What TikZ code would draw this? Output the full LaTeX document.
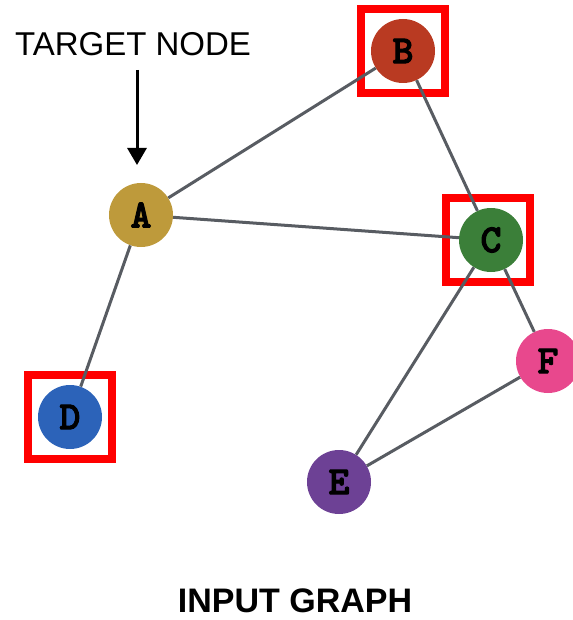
\documentclass[tikz,border=0pt]{standalone}
\usepackage{fontspec}
\setmainfont{Liberation Sans}
\newfontfamily\letterfont{lmmonolt10-bold}[Extension=.otf, FakeBold=2.5]
\usetikzlibrary{arrows.meta}
\definecolor{nodeA}{HTML}{BE9A3B}
\definecolor{nodeB}{HTML}{B93A22}
\definecolor{nodeC}{HTML}{3B7F39}
\definecolor{nodeD}{HTML}{2C63B9}
\definecolor{nodeE}{HTML}{6D4195}
\definecolor{nodeF}{HTML}{E8488D}
\definecolor{edgegray}{HTML}{585C62}
\tikzset{
  graphnode/.style={circle, minimum size=64pt, inner sep=0pt, font=\letterfont\fontsize{40}{40}\selectfont},
  graphedge/.style={draw=edgegray, line width=3pt},
  selbox/.style={draw=red, line width=8pt, minimum size=84pt, inner sep=0pt},
  pointer/.style={-{Triangle[length=17pt, width=19pt]}, line width=3pt}
}

\begin{document}
\begin{tikzpicture}[x=1pt, y=-1pt]
  \useasboundingbox (0,0) rectangle (572,620);
  % red selection boxes
  \node[selbox] (bsel) at (403,51) {};
  \node[selbox] (csel) at (488,240) {};
  \node[selbox] (dsel) at (70,417) {};
  % graph nodes
  \node[graphnode, fill=nodeA] (a) at (141,215) {A};
  \node[graphnode, fill=nodeB] (b) at (403,51) {B};
  \node[graphnode, fill=nodeC] (c) at (491,240) {C};
  \node[graphnode, fill=nodeD] (d) at (70,417) {D};
  \node[graphnode, fill=nodeE] (e) at (339,482) {E};
  \node[graphnode, fill=nodeF] (f) at (548,361) {F};
  \draw[graphedge] (a) -- (b);
  \draw[graphedge] (a) -- (c);
  \draw[graphedge] (a) -- (d);
  \draw[graphedge] (b) -- (c);
  \draw[graphedge] (c) -- (e);
  \draw[graphedge] (c) -- (f);
  \draw[graphedge] (e) -- (f);
  % labels
  \node[font=\fontsize{33}{36}\selectfont, inner sep=0pt] (target) at (133,44) {TARGET NODE};
  \coordinate (arrstart) at (137,70);
  \coordinate (arrtip) at (137,165);
  \draw[pointer] (arrstart) -- (arrtip);
  \node[font=\bfseries\fontsize{34}{38}\selectfont, inner sep=0pt] (title) at (295,601) {INPUT GRAPH};
\end{tikzpicture}
\end{document}
